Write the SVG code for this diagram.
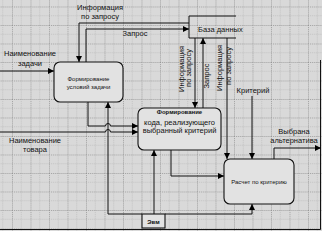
<svg xmlns="http://www.w3.org/2000/svg" width="322" height="231" viewBox="0 0 322 231">
<defs>
<pattern id="grid" width="18.5" height="18.5" patternUnits="userSpaceOnUse" x="12" y="6.5">
<rect width="18.5" height="18.5" fill="#d9d9d9"/>
<path d="M9.25 0V18.5M0 9.25H18.5" stroke="#bdbdbd" stroke-width="0.8" stroke-dasharray="1 1"/>
<path d="M0.5 0V18.5M0 0.5H18.5" stroke="#939393" stroke-width="0.8" stroke-dasharray="1 1"/>
</pattern>
<marker id="ah" viewBox="0 0 6 6" refX="6" refY="3" markerWidth="6" markerHeight="6" markerUnits="userSpaceOnUse" orient="auto">
<path d="M0 0L6 3L0 6Z" fill="#000"/>
</marker>
</defs>
<style>
.box{fill:#e2e2e2;stroke:#111;stroke-width:1.1}
.ln{fill:none;stroke:#111;stroke-width:1}
.t{font-family:"Liberation Sans",Arial,sans-serif;font-size:7.5px;fill:#111}
.bt{font-family:"Liberation Sans",Arial,sans-serif;font-size:6px;fill:#111}
</style>
<rect width="322" height="231" fill="url(#grid)"/>
<path d="M320.5 60V229.5H0" class="ln" stroke-width="1.2"/>

<g id="connectors">
<path class="ln" d="M0 71H54" marker-end="url(#ah)"/>
<path class="ln" d="M189 23H79V62" marker-end="url(#ah)"/>
<path class="ln" d="M86 62V29H189" marker-end="url(#ah)"/>
<path class="ln" d="M88 102V126H105.5A2.5 2.5 0 0 1 110.5 126H138" marker-end="url(#ah)"/>
<path class="ln" d="M0 132H105.5A2.5 2.5 0 0 1 110.5 132H138" marker-end="url(#ah)"/>
<path class="ln" d="M142 214H108V102" marker-end="url(#ah)"/>
<path class="ln" d="M154 214V150" marker-end="url(#ah)"/>
<path class="ln" d="M165 214H252V204" marker-end="url(#ah)"/>
<path class="ln" d="M171 150V176H224" marker-end="url(#ah)"/>
<path class="ln" d="M195 38V108" marker-end="url(#ah)"/>
<path class="ln" d="M203 108V38" marker-end="url(#ah)"/>
<path class="ln" d="M227 38V159" marker-end="url(#ah)"/>
<path class="ln" d="M252 96V159" marker-end="url(#ah)"/>
<path class="ln" d="M274 159V148H321" marker-end="url(#ah)"/>
</g>

<g id="labels">
<text class="t" x="30" y="56" text-anchor="middle">Наименование</text>
<text class="t" x="30" y="66" text-anchor="middle">задачи</text>
<text class="t" x="100" y="10" text-anchor="middle">Информация</text>
<text class="t" x="100" y="19" text-anchor="middle">по запросу</text>
<text class="t" x="135" y="36" text-anchor="middle">Запрос</text>
<text class="t" x="35" y="143" text-anchor="middle">Наименование</text>
<text class="t" x="35" y="151.5" text-anchor="middle">товара</text>
<text class="t" transform="translate(183.5,69) rotate(-90)" text-anchor="middle">Информация</text>
<text class="t" transform="translate(191,68) rotate(-90)" text-anchor="middle">по запросу</text>
<text class="t" transform="translate(209,76) rotate(-90)" text-anchor="middle">Запрос</text>
<text class="t" transform="translate(222,68) rotate(-90)" text-anchor="middle">Информация</text>
<text class="t" transform="translate(230.5,66) rotate(-90)" text-anchor="middle">по запросу</text>
<text class="t" x="253" y="93" text-anchor="middle">Критерий</text>
<text class="t" x="294" y="134" text-anchor="middle">Выбрана</text>
<text class="t" x="294" y="143" text-anchor="middle">альтернатива</text>
</g>

<g id="db">
<path class="ln" d="M236 16H189V38H236"/>
<text class="t" x="198" y="32">База данных</text>
</g>

<g id="n1">
<rect class="box" x="54" y="62" width="69" height="40" rx="6"/>
<text class="bt" x="88.5" y="81" text-anchor="middle">Формирование</text>
<text class="bt" x="88.5" y="89" text-anchor="middle">условий задачи</text>
</g>

<g id="n2">
<rect class="box" x="138" y="108" width="83" height="42" rx="6"/>
<text class="bt" x="179.5" y="114" text-anchor="middle" font-weight="bold">Формирование</text>
<text class="t" x="179.5" y="124.5" text-anchor="middle">кода, реализующего</text>
<text class="t" x="179.5" y="132.5" text-anchor="middle">выбранный критерий</text>
</g>

<g id="n3">
<rect class="box" x="224" y="159" width="70" height="45" rx="6"/>
<text class="bt" x="259" y="184" text-anchor="middle">Расчет по критерию</text>
</g>

<g id="n4">
<rect class="box" x="142" y="214" width="23" height="14" fill="#e6e6e6"/>
<text class="bt" x="153.5" y="223.5" text-anchor="middle" font-weight="bold">Эвм</text>
</g>
</svg>
